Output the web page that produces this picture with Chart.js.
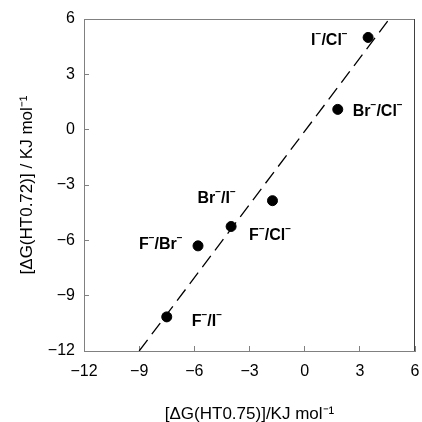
<!DOCTYPE html>
<html>
<head>
<meta charset="utf-8">
<script src="https://cdn.jsdelivr.net/npm/chart.js@4.4.0/dist/chart.umd.min.js"></script>
<style>
  html, body { margin: 0; padding: 0; background: #fff; }
  #wrap { width: 422px; height: 422px; }
</style>
</head>
<body>
<div id="wrap"><canvas id="myChart" width="422" height="422"></canvas></div>
<script>
// data
var pointNames = ['I^-/Cl^-', 'Br^-/Cl^-', 'Br^-/I^-', 'F^-/Cl^-', 'F^-/Br^-', 'F^-/I^-'];
var dgX = [3.45, 1.8, -1.75, -4.0, -5.8, -7.5];   // ΔG(HT0.75)
var dgY = [5.0, 1.1, -3.85, -5.25, -6.3, -10.15]; // ΔG(HT0.72)
var fitX = [-9.0, 4.6];
var fitY = [-12.0, 6.0];
var axisTicks = [-12, -9, -6, -3, 0, 3, 6];

var FONT = '"Liberation Sans", Arial, sans-serif';

// pixel offsets of each label's left/baseline from its point
var labelOffsets = [[-57, 8], [15, 7], [-75, 2], [18, 13], [-59, 3], [25, 9]];

function drawSupText(ctx, text, x, y) {
  // '^' marks a one-character superscript
  var parts = [];
  for (var i = 0; i < text.length; i++) {
    if (text[i] === '^') { parts.push([text[i + 1] === '-' ? '\u2212' : text[i + 1], true]); i++; }
    else parts.push([text[i], false]);
  }
  var cx = x;
  parts.forEach(function (p) {
    ctx.font = p[1] ? 'bold 10px ' + FONT : 'bold 16px ' + FONT;
    ctx.fillText(p[0], cx, p[1] ? y - 8 : y);
    cx += ctx.measureText(p[0]).width;
  });
}

var labelPlugin = {
  id: 'labelPlugin',
  afterDatasetsDraw: function (chart) {
    var ctx = chart.ctx, a = chart.chartArea;
    var xs = chart.scales.x, ys = chart.scales.y;
    ctx.save();
    // top and right frame lines
    ctx.lineWidth = 1;
    ctx.strokeStyle = '#808080';
    ctx.beginPath();
    ctx.moveTo(a.left, Math.round(a.top) + 0.5);
    ctx.lineTo(a.right, Math.round(a.top) + 0.5);
    ctx.stroke();
    ctx.strokeStyle = '#404040';
    ctx.beginPath();
    ctx.moveTo(Math.round(a.right) - 0.5, a.top);
    ctx.lineTo(Math.round(a.right) - 0.5, a.bottom);
    ctx.stroke();
    // point labels
    ctx.fillStyle = '#000';
    ctx.textBaseline = 'alphabetic';
    ctx.textAlign = 'left';
    pointNames.forEach(function (name, i) {
      var px = xs.getPixelForValue(dgX[i]);
      var py = ys.getPixelForValue(dgY[i]);
      drawSupText(ctx, name, px + labelOffsets[i][0], py + labelOffsets[i][1]);
    });
    ctx.restore();
  }
};

function minusTick(v) { return v < 0 ? '\u2212' + Math.abs(v) : String(v); }

function noPad(s) {
  s.paddingTop = 0; s.paddingBottom = 0; s.paddingLeft = 0; s.paddingRight = 0;
}

var ctx = document.getElementById('myChart').getContext('2d');
var chart = new Chart(ctx, {
  type: 'scatter',
  data: {
    datasets: [{
      label: 'fit',
      type: 'line',
      data: fitX.map(function (v, i) { return { x: v, y: fitY[i] }; }),
      borderColor: '#000',
      borderWidth: 1.3,
      borderDash: [14, 7],
      pointRadius: 0,
      fill: false
    }, {
      label: 'data',
      data: dgX.map(function (v, i) { return { x: v, y: dgY[i] }; }),
      backgroundColor: '#000',
      borderColor: '#000',
      pointRadius: 5,
      pointHoverRadius: 5
    }]
  },
  options: {
    responsive: false,
    animation: false,
    events: [],
    layout: { padding: { top: 19, right: 7, left: 0, bottom: 0 } },
    plugins: { legend: { display: false }, tooltip: { enabled: false } },
    scales: {
      x: {
        type: 'linear', min: -12, max: 6,
        afterBuildTicks: function (s) { s.ticks = axisTicks.map(function (v) { return { value: v }; }); },
        afterFit: function (s) { s.height = 71; noPad(s); },
        grid: { drawOnChartArea: false, tickLength: -5, color: '#808080' },
        border: { color: '#808080', width: 1 },
        ticks: { padding: 16, color: '#000', font: { family: FONT, size: 16 }, callback: minusTick, maxRotation: 0 },
        title: { display: true, text: '[\u0394G(HT0.75)]/KJ mol\u207B\u00B9', color: '#000',
                 font: { family: FONT, size: 17, lineHeight: 0.85 }, padding: { top: 0, bottom: 0 } }
      },
      y: {
        type: 'linear', min: -12, max: 6,
        afterBuildTicks: function (s) { s.ticks = axisTicks.map(function (v) { return { value: v }; }); },
        afterFit: function (s) { s.width = 84; noPad(s); },
        grid: { drawOnChartArea: false, tickLength: -5, color: '#808080' },
        border: { color: '#808080', width: 1 },
        ticks: { padding: 14, color: '#000', font: { family: FONT, size: 16 }, callback: minusTick },
        title: { display: true, text: '[\u0394G(HT0.72)] / KJ mol\u207B\u00B9', color: '#000',
                 font: { family: FONT, size: 17, lineHeight: 0.9 }, padding: { top: 20, bottom: 0 } }
      }
    }
  },
  plugins: [labelPlugin]
});
</script>
</body>
</html>
